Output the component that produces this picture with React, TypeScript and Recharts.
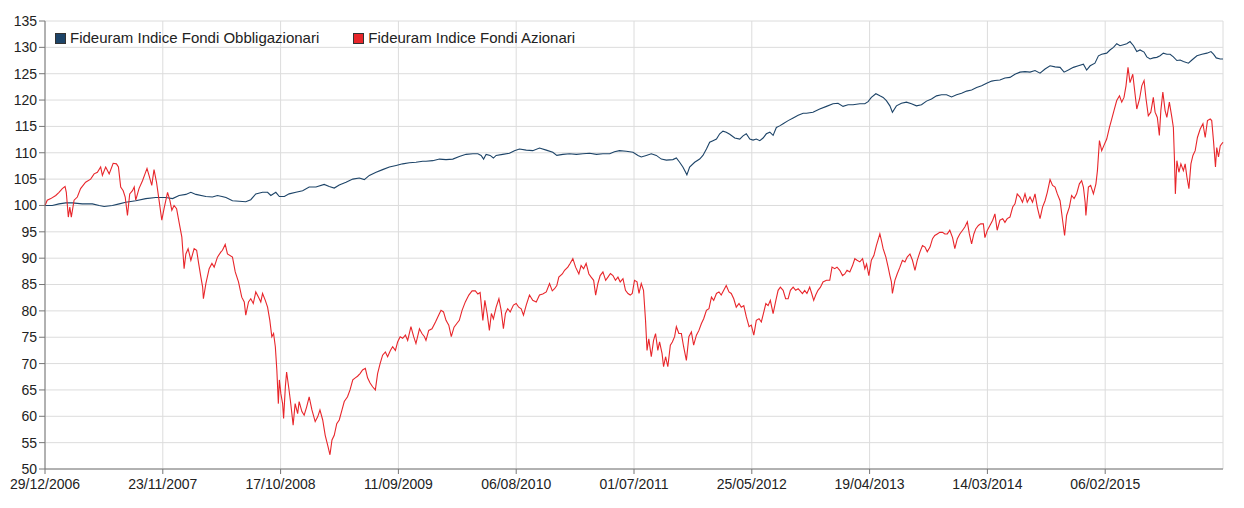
import React from 'react';
import { LineChart, Line, XAxis, YAxis, CartesianGrid, Legend } from 'recharts';

// x = weeks elapsed since 29/12/2006 (weekly quotes)
const tickWeeks = [0, 47, 94, 141, 188, 235, 282, 329, 376, 423];
const tickLabels = ['29/12/2006', '23/11/2007', '17/10/2008', '11/09/2009', '06/08/2010', '01/07/2011', '25/05/2012', '19/04/2013', '14/03/2014', '06/02/2015'];
const yTicks = [50, 55, 60, 65, 70, 75, 80, 85, 90, 95, 100, 105, 110, 115, 120, 125, 130, 135];

const seriesNames = ['Fideuram Indice Fondi Obbligazionari', 'Fideuram Indice Fondi Azionari'];
const seriesColors = ['#1d4468', '#e8262b'];

const blueWeeks = [
  0, 2.9, 5.6, 8.3, 10.9, 14.9, 18.9, 21.6, 23.6, 26.9, 29.6, 32.2, 36.2, 40.2, 44.2, 48.2, 50.9, 53.5, 56.2, 58.2,
  60.2, 64.2, 66.8, 68.8, 70.6, 72.2, 74.8, 77.5, 80.1, 82.1, 84.1, 86.8, 88.8, 90.1, 92.1, 93.5, 95.5, 97.4, 100.1, 102.8,
  105.4, 108.1, 111.4, 113.4, 115.4, 117.4, 120.1, 122.8, 125.4, 127.4, 129.4, 132.1, 134.7, 137.4, 140.1, 142.7, 145.4, 148.0, 150.7, 152.0,
  154.7, 157.4, 160.0, 162.7, 165.3, 168.0, 170.7, 172.7, 174.0, 175.0, 176.0, 177.6, 178.9, 180.0, 182.6, 185.3, 187.3, 189.3, 192.0, 194.6,
  197.3, 200.0, 202.6, 204.2, 206.6, 209.3, 212.0, 214.6, 217.3, 220.0, 222.6, 225.3, 227.2, 229.2, 231.9, 234.6, 236.6, 237.9, 239.9, 241.9,
  243.9, 245.9, 247.9, 250.5, 251.9, 253.2, 254.5, 255.6, 256.1, 257.2, 259.2, 261.2, 262.5, 263.9, 265.2, 266.5, 267.9, 269.2, 270.5, 271.8,
  273.2, 275.2, 277.2, 278.5, 279.8, 281.2, 282.5, 283.8, 285.2, 286.5, 287.8, 289.2, 290.5, 291.8, 293.1, 294.5, 296.5, 298.5, 300.5, 302.5,
  303.8, 306.4, 309.1, 311.8, 314.4, 316.4, 318.4, 320.4, 322.4, 325.1, 327.1, 328.4, 329.7, 331.5, 333.1, 334.4, 335.7, 337.1, 338.1, 339.7,
  341.7, 343.7, 345.7, 347.7, 349.7, 351.7, 353.7, 355.7, 357.7, 359.7, 361.7, 363.7, 365.7, 367.7, 369.7, 371.7, 373.7, 375.7, 377.7, 379.0,
  381.0, 383.0, 385.0, 387.0, 389.0, 391.0, 393.0, 395.0, 397.0, 399.0, 401.0, 403.0, 405.0, 406.6, 408.3, 410.3, 412.3, 414.3, 415.6, 417.0,
  418.9, 420.3, 421.6, 423.6, 424.9, 426.3, 427.6, 428.9, 430.3, 431.6, 432.9, 434.3, 435.6, 436.9, 438.5, 439.6, 440.9, 442.2, 443.6, 444.9,
  446.2, 447.6, 448.9, 450.2, 451.6, 452.9, 454.2, 456.2, 457.6, 459.6, 461.6, 463.6, 465.2, 466.2, 467.3, 468.9, 470,
];
const blueValues = [
  100.0, 100.0, 100.3, 100.5, 100.5, 100.3, 100.3, 100.0, 99.8, 100.0, 100.3, 100.6, 100.9, 101.3, 101.5, 101.5, 101.3, 101.9, 102.1, 102.5,
  102.1, 101.7, 101.6, 101.9, 101.7, 101.5, 100.9, 100.8, 100.7, 101.1, 102.2, 102.5, 102.5, 101.9, 102.5, 101.7, 101.7, 102.2, 102.5, 102.8,
  103.5, 103.5, 104.0, 103.6, 103.3, 103.9, 104.4, 105.0, 105.2, 104.9, 105.7, 106.3, 106.8, 107.3, 107.6, 107.9, 108.1, 108.2, 108.4, 108.4,
  108.5, 108.8, 108.7, 108.8, 109.3, 109.7, 109.8, 109.8, 109.5, 108.8, 109.7, 109.5, 109.0, 109.5, 109.7, 109.9, 110.4, 110.7, 110.5, 110.4,
  110.9, 110.5, 110.1, 109.5, 109.7, 109.8, 109.7, 109.8, 109.9, 109.7, 109.8, 109.8, 110.2, 110.4, 110.3, 110.1, 109.5, 109.2, 109.5, 109.8,
  109.5, 108.8, 108.6, 108.7, 109.0, 108.2, 107.3, 106.3, 105.8, 107.3, 108.2, 108.8, 109.5, 110.7, 112.0, 112.3, 112.6, 113.6, 114.1, 113.9,
  113.5, 112.8, 112.6, 113.2, 113.6, 112.6, 112.4, 112.6, 112.3, 112.8, 113.6, 113.9, 113.3, 114.8, 115.1, 115.5, 116.1, 116.6, 117.1, 117.5,
  117.5, 117.7, 118.3, 118.8, 119.3, 119.4, 118.8, 119.1, 119.1, 119.3, 119.3, 119.7, 120.5, 121.2, 120.8, 120.5, 119.9, 118.9, 117.7, 118.9,
  119.4, 119.6, 119.3, 118.9, 119.1, 119.8, 120.2, 120.8, 121.0, 121.0, 120.6, 121.0, 121.3, 121.7, 121.9, 122.4, 122.7, 123.2, 123.6, 123.7,
  123.8, 124.2, 124.3, 124.9, 125.3, 125.4, 125.3, 125.6, 125.1, 125.9, 126.5, 126.3, 126.2, 125.3, 125.7, 126.2, 126.5, 126.8, 125.7, 126.5,
  127.0, 128.4, 128.7, 128.9, 129.5, 130.0, 130.7, 130.3, 130.5, 130.7, 131.1, 130.3, 129.2, 129.5, 129.1, 128.2, 127.8, 128.0, 128.1, 128.4,
  128.9, 128.7, 128.7, 128.2, 127.5, 127.6, 127.3, 127.0, 127.6, 128.4, 128.7, 128.9, 129.2, 128.7, 128.0, 127.8, 127.8,
];

const redWeeks = [
  0, 0.9, 2.3, 4.3, 5.6, 6.9, 8.0, 8.5, 9.3, 9.9, 10.5, 11.6, 12.9, 14.2, 16.2, 18.2, 19.6, 20.9, 22.2, 22.9,
  24.2, 25.6, 27.2, 28.5, 29.3, 30.2, 31.2, 32.0, 32.9, 33.8, 34.9, 35.6, 36.2, 37.5, 38.9, 39.9, 40.7, 41.5, 42.6, 43.5,
  44.5, 45.5, 46.6, 47.5, 48.9, 49.8, 50.6, 51.5, 52.5, 53.5, 54.6, 55.5, 56.2, 57.1, 58.2, 59.5, 60.5, 61.3, 62.2, 62.9,
  63.2, 64.2, 65.5, 66.6, 67.5, 68.8, 70.2, 70.8, 71.9, 72.8, 74.8, 75.9, 77.2, 78.5, 79.5, 80.1, 81.2, 82.1, 83.1, 84.1,
  85.2, 86.1, 86.8, 87.9, 88.8, 89.7, 90.5, 91.2, 91.9, 92.5, 93.1, 93.5, 94.1, 94.8, 95.2, 95.9, 96.4, 97.2, 97.9, 98.5,
  99.0, 99.8, 100.8, 101.4, 102.5, 103.4, 104.4, 105.4, 106.5, 107.8, 108.8, 109.7, 110.8, 111.8, 112.8, 113.7, 114.5, 115.4, 116.4, 117.4,
  118.5, 119.4, 120.7, 121.7, 122.8, 123.8, 124.7, 125.7, 126.7, 127.8, 128.7, 129.7, 130.7, 131.8, 132.7, 133.7, 134.7, 135.8, 136.7, 137.8,
  138.7, 139.8, 140.7, 141.7, 142.7, 143.8, 144.7, 146.0, 147.1, 148.0, 149.4, 150.4, 151.4, 152.0, 153.1, 154.4, 155.8, 157.1, 158.0, 159.0,
  160.0, 161.1, 162.1, 163.2, 164.3, 165.3, 166.4, 167.7, 169.1, 170.4, 171.7, 172.7, 173.6, 174.7, 175.5, 176.4, 177.3, 178.1, 178.9, 180.0,
  181.1, 182.0, 182.9, 183.7, 184.6, 185.6, 186.9, 188.0, 189.0, 190.0, 190.9, 192.0, 193.3, 194.6, 196.0, 197.3, 198.6, 200.0, 201.3, 202.4,
  203.3, 204.2, 205.0, 206.4, 207.3, 208.6, 209.5, 210.6, 211.7, 213.0, 213.9, 214.9, 215.9, 217.0, 217.9, 218.9, 219.7, 220.6, 221.5, 222.6,
  223.7, 224.6, 225.6, 226.6, 227.6, 228.6, 229.5, 230.6, 231.6, 232.6, 233.5, 234.3, 235.2, 236.2, 237.0, 237.9, 238.8, 239.6, 240.2, 240.9,
  241.9, 242.8, 243.6, 244.5, 245.2, 246.2, 246.8, 247.6, 248.5, 249.5, 250.3, 251.2, 251.9, 252.9, 253.9, 254.8, 255.9, 256.9, 257.9, 258.8,
  259.9, 260.9, 261.9, 262.8, 263.9, 264.9, 265.9, 266.8, 267.9, 268.9, 269.8, 270.8, 271.8, 272.9, 273.8, 274.8, 275.8, 276.9, 277.8, 278.8,
  279.8, 280.9, 281.8, 282.8, 283.8, 284.9, 285.8, 286.8, 287.6, 288.5, 289.4, 290.5, 291.6, 292.5, 293.4, 294.5, 295.5, 296.5, 297.4, 298.5,
  299.5, 300.5, 301.1, 302.2, 303.1, 304.0, 305.1, 305.9, 306.7, 307.5, 308.4, 309.4, 310.4, 311.8, 313.1, 314.0, 315.1, 316.0, 317.1, 318.2,
  319.1, 320.0, 321.1, 322.2, 323.1, 324.0, 325.1, 326.2, 327.1, 327.8, 328.7, 329.7, 330.7, 331.7, 333.1, 333.7, 334.4, 335.5, 336.4, 337.1,
  337.7, 338.1, 339.1, 340.0, 341.1, 342.1, 343.1, 344.0, 345.1, 346.1, 347.1, 348.0, 349.1, 350.1, 351.1, 352.0, 353.1, 354.1, 355.0, 356.0,
  357.0, 358.1, 359.0, 360.0, 361.0, 362.1, 363.0, 364.0, 365.0, 366.1, 367.0, 368.0, 368.8, 369.7, 370.6, 371.4, 372.4, 373.3, 374.4, 375.0,
  376.0, 377.0, 378.1, 379.0, 379.9, 381.0, 382.1, 383.0, 383.9, 385.0, 386.1, 387.0, 387.9, 389.0, 390.0, 391.0, 391.9, 393.0, 394.0, 395.0,
  395.9, 397.0, 398.0, 399.0, 399.9, 401.0, 402.0, 403.0, 403.9, 405.0, 406.0, 406.8, 407.6, 408.7, 409.6, 410.6, 411.6, 412.7, 413.6, 414.3,
  415.0, 415.3, 416.3, 417.2, 418.3, 419.3, 419.9, 420.7, 421.6, 422.5, 423.6, 424.7, 425.6, 426.5, 427.6, 428.7, 429.6, 430.5, 431.3, 432.1,
  432.9, 434.0, 434.9, 435.6, 436.7, 437.6, 438.5, 439.3, 440.2, 441.2, 442.2, 442.9, 443.8, 444.6, 445.2, 446.0, 446.9, 447.6, 448.6, 449.6,
  450.2, 450.6, 451.0, 451.6, 452.4, 453.2, 454.2, 454.9, 455.6, 456.4, 457.2, 458.0, 458.9, 459.8, 460.9, 462.0, 462.9, 463.8, 464.9, 465.5,
  466.2, 467.0, 467.5, 468.2, 468.9, 469.5, 470,
];
const redValues = [
  100.0, 101.0, 101.3, 101.9, 102.5, 103.2, 103.6, 102.5, 97.8, 99.7, 97.8, 101.0, 101.6, 103.2, 104.4, 105.0, 106.0, 106.3, 107.3, 105.7,
  107.3, 106.0, 108.0, 107.9, 107.3, 103.5, 102.8, 101.6, 98.1, 102.2, 102.8, 103.5, 101.0, 103.2, 104.7, 106.0, 107.0, 105.7, 103.8, 106.8,
  104.4, 101.0, 97.2, 99.4, 102.5, 101.0, 99.1, 100.0, 99.4, 96.8, 94.0, 88.0, 90.8, 91.8, 89.6, 91.8, 91.5, 89.0, 86.4, 84.5,
  82.3, 85.2, 88.0, 89.0, 88.3, 90.2, 91.2, 91.5, 92.6, 90.8, 90.2, 87.4, 85.5, 82.6, 81.7, 79.2, 81.7, 82.3, 81.4, 83.6,
  82.6, 81.7, 83.3, 82.0, 80.7, 78.2, 75.1, 75.7, 73.2, 68.8, 62.4, 66.9, 64.3, 62.4, 59.6, 65.6, 68.4, 65.6, 63.0, 60.5,
  58.3, 62.4, 60.5, 62.8, 60.9, 60.2, 61.8, 63.7, 61.2, 59.0, 59.9, 61.2, 59.3, 56.4, 54.5, 52.7, 55.5, 56.4, 58.6, 59.3,
  61.2, 62.8, 63.7, 65.0, 66.9, 67.3, 67.6, 68.1, 68.8, 69.1, 67.3, 66.3, 65.6, 65.0, 68.1, 70.0, 71.6, 72.2, 71.3, 72.5,
  73.2, 72.5, 74.1, 75.1, 74.8, 75.4, 74.4, 77.0, 75.1, 73.8, 76.6, 75.7, 75.1, 74.4, 76.3, 76.6, 77.9, 79.2, 80.1, 79.8,
  78.2, 77.3, 75.1, 76.9, 77.6, 78.2, 80.1, 81.7, 83.0, 83.8, 83.8, 83.2, 83.5, 78.2, 82.0, 79.5, 76.3, 79.5, 78.5, 80.7,
  82.3, 80.1, 76.6, 79.5, 80.4, 79.8, 81.1, 81.4, 80.7, 80.4, 79.2, 81.1, 83.0, 82.0, 81.7, 83.0, 83.2, 83.6, 85.2, 83.8,
  84.2, 84.8, 86.4, 87.0, 87.7, 88.3, 89.0, 89.9, 88.3, 87.0, 88.6, 88.0, 89.0, 87.0, 86.4, 85.8, 83.0, 85.2, 86.7, 87.4,
  85.8, 86.4, 87.1, 86.7, 85.8, 86.4, 85.5, 86.1, 83.9, 83.3, 83.0, 83.3, 85.8, 85.5, 83.3, 85.2, 83.9, 78.2, 72.5, 74.7,
  71.3, 74.4, 75.7, 72.5, 74.1, 71.9, 69.4, 71.3, 69.4, 73.5, 74.1, 75.1, 77.0, 75.7, 75.7, 73.2, 70.6, 75.1, 76.0, 73.5,
  75.4, 76.3, 77.6, 78.5, 80.1, 80.4, 82.6, 82.0, 83.3, 83.6, 83.0, 83.9, 84.8, 83.6, 83.3, 82.3, 80.7, 81.4, 80.7, 81.0,
  78.9, 77.0, 77.3, 75.4, 78.2, 78.5, 77.9, 79.8, 81.4, 81.0, 82.0, 79.5, 82.0, 83.9, 84.5, 83.9, 82.3, 82.3, 83.9, 84.5,
  83.9, 84.2, 83.9, 83.3, 83.9, 83.3, 84.5, 83.3, 82.0, 83.0, 83.9, 84.5, 85.5, 85.8, 85.8, 88.3, 88.0, 88.3, 87.7, 86.7,
  87.0, 87.7, 87.4, 88.6, 89.9, 89.6, 89.3, 89.9, 88.0, 88.9, 86.7, 89.6, 90.5, 92.4, 94.6, 93.4, 91.8, 90.2, 88.3, 86.7,
  85.5, 83.3, 85.8, 87.0, 88.3, 89.6, 89.3, 90.2, 90.8, 89.6, 87.7, 89.6, 91.2, 92.4, 92.1, 91.2, 92.1, 93.7, 94.3, 94.6,
  94.9, 94.9, 94.6, 94.6, 95.3, 93.9, 91.8, 93.7, 94.6, 95.3, 95.9, 96.9, 94.6, 92.7, 94.6, 95.6, 96.2, 96.5, 96.5, 93.9,
  95.3, 96.2, 97.2, 98.4, 95.3, 97.2, 97.5, 96.8, 97.5, 97.8, 99.7, 100.3, 102.2, 101.6, 100.6, 102.2, 100.6, 101.6, 100.6, 102.2,
  99.7, 97.5, 99.7, 100.9, 102.5, 104.9, 103.8, 103.5, 102.2, 100.9, 97.2, 94.3, 98.1, 99.7, 101.9, 101.3, 102.2, 104.1, 104.7, 103.5,
  100.6, 98.1, 103.5, 103.8, 102.2, 104.1, 106.6, 112.3, 110.4, 111.4, 112.6, 114.8, 116.4, 118.0, 119.9, 120.8, 119.6, 120.5, 122.7, 126.2,
  123.3, 124.9, 121.2, 118.3, 120.2, 122.7, 123.7, 120.2, 117.0, 117.7, 120.5, 117.7, 116.7, 113.3, 118.0, 121.5, 118.0, 116.7, 119.6, 116.7,
  114.8, 109.2, 102.2, 108.5, 106.3, 107.9, 106.6, 107.9, 105.4, 103.2, 107.9, 109.5, 110.4, 112.9, 114.5, 115.5, 112.9, 116.1, 116.4, 116.1,
  112.3, 107.3, 111.0, 109.2, 111.3, 111.7, 112.0,
];

const blueData = blueWeeks.map((w, i) => ({ w, v: blueValues[i] }));
const redData = redWeeks.map((w, i) => ({ w, v: redValues[i] }));

const FONT = '"Liberation Sans", Arial, sans-serif';

const LegendContent = () => (
  <div style={{ display: 'flex', fontFamily: FONT, fontSize: 15, color: '#222', lineHeight: '16px', whiteSpace: 'nowrap' }}>
    {seriesNames.map((name, i) => (
      <div key={name} style={{ display: 'flex', alignItems: 'center', marginRight: i === 0 ? 34 : 0 }}>
        <span style={{ display: 'inline-block', width: 9, height: 9, background: seriesColors[i], border: '1px solid #333', marginRight: 4 }} />
        <span>{name}</span>
      </div>
    ))}
  </div>
);

export default function App() {
  return (
    <div style={{ position: 'absolute', left: 0, top: 0, width: 1244, height: 508, background: '#fff' }}>
      <LineChart width={1244} height={508} margin={{ top: 21, right: 21, bottom: 0, left: 0 }}>
        <CartesianGrid stroke="#dcdcdc" strokeWidth={1} />
        <XAxis
          type="number"
          dataKey="w"
          domain={[0, 470]}
          ticks={tickWeeks}
          tickFormatter={(w) => tickLabels[tickWeeks.indexOf(w)] ?? ''}
          allowDuplicatedCategory={false}
          height={39}
          tickSize={5}
          tickMargin={5}
          stroke="#777"
          tick={{ fill: '#222', fontSize: 14, fontFamily: FONT }}
        />
        <YAxis
          type="number"
          domain={[50, 135]}
          ticks={yTicks}
          width={45}
          tickSize={6}
          tickMargin={2}
          stroke="#777"
          interval={0}
          tick={{ fill: '#222', fontSize: 14, fontFamily: FONT }}
        />
        <Legend
          layout="horizontal"
          verticalAlign="middle"
          align="center"
          content={<LegendContent />}
          wrapperStyle={{ position: 'absolute', top: 30, left: 55, width: 'auto' }}
        />
        <Line data={blueData} dataKey="v" name={seriesNames[0]} stroke={seriesColors[0]} strokeWidth={1.1} dot={false} isAnimationActive={false} />
        <Line data={redData} dataKey="v" name={seriesNames[1]} stroke={seriesColors[1]} strokeWidth={1.1} dot={false} isAnimationActive={false} />
      </LineChart>
    </div>
  );
}
